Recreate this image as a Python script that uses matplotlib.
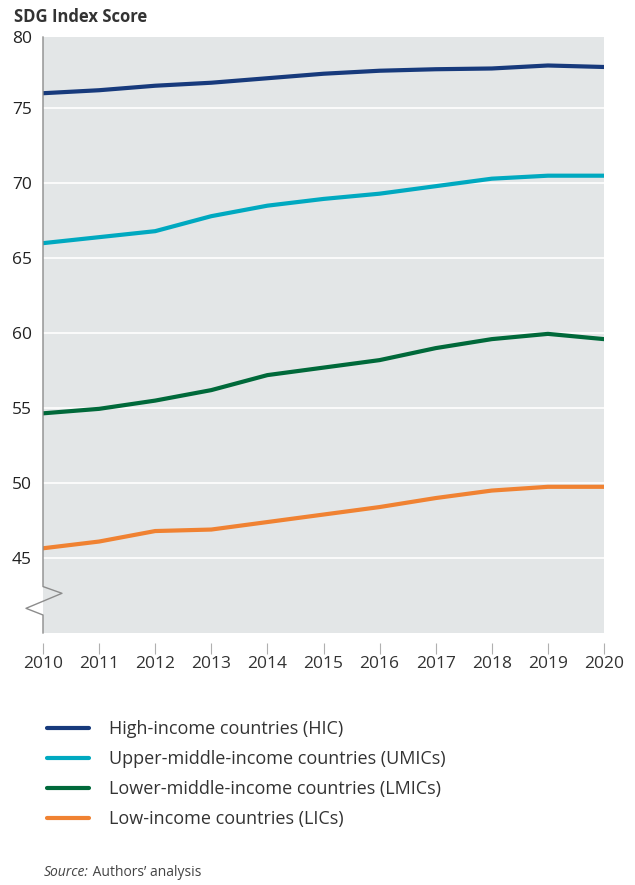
import matplotlib
matplotlib.use("Agg")
from matplotlib import pyplot as plt
from matplotlib.lines import Line2D

plt.rcParams['font.family'] = ['Open Sans', 'DejaVu Sans']

years = [2010, 2011, 2012, 2013, 2014, 2015, 2016, 2017, 2018, 2019, 2020]
hic = [76.0, 76.2, 76.5, 76.7, 77.0, 77.3, 77.5, 77.6, 77.65, 77.85, 77.75]
umic = [66.0, 66.4, 66.8, 67.8, 68.5, 68.95, 69.3, 69.8, 70.3, 70.5, 70.5]
lmic = [54.65, 54.95, 55.5, 56.2, 57.2, 57.7, 58.2, 59.0, 59.6, 59.95, 59.6]
lic = [45.65, 46.1, 46.8, 46.9, 47.4, 47.9, 48.4, 49.0, 49.5, 49.75, 49.75]

labels = ["High-income countries (HIC)",
          "Upper-middle-income countries (UMICs)",
          "Lower-middle-income countries (LMICs)",
          "Low-income countries (LICs)"]
colors = ["#173a7c", "#00a9c0", "#00693a", "#f08232"]

ytick_values = [45, 50, 55, 60, 65, 70, 75]
ytick_labels = ["45", "50", "55", "60", "65", "70", "75"]

fig = plt.figure(figsize=(6.35, 8.85), dpi=100)
ax = fig.add_axes([43 / 635, 1 - 633 / 885, 561 / 635, 596 / 885])
ax.set_facecolor("#e3e6e7")

for series, color in zip([hic, umic, lmic, lic], colors):
    ax.plot(years, series, color=color, lw=3, solid_capstyle="round", zorder=3)

ax.set_xlim(2010, 2020)
ax.set_ylim(40, 79.75)

# top label is "80" at the edge of the panel
ax.set_yticks(ytick_values + [79.75])
ax.set_yticklabels(ytick_labels + ["80"])
ax.set_xticks(years)
ax.set_xticklabels([str(y) for y in years])

for v in ytick_values:
    ax.axhline(v, color="white", lw=1.2, zorder=1)

for s in ["top", "right"]:
    ax.spines[s].set_visible(False)
ax.spines["bottom"].set_position(("outward", 7))
ax.spines["bottom"].set_color("none")
ax.spines["left"].set_visible(False)

ax.tick_params(axis="y", length=0, pad=8, labelsize=12.5, labelcolor="#222222")
ax.tick_params(axis="x", length=8, width=0.8, color="#b0b0b0", pad=1.5,
               labelsize=12.5, labelcolor="#333333")

# left axis with zigzag break near the bottom
ax.plot([0, 0, 0.0338, -0.0303, 0, 0],
        [1, 0.0779, 0.0666, 0.0414, 0.0302, 0],
        transform=ax.transAxes, color="#8c8c8c", lw=1.0, clip_on=False, zorder=4)

fig.text(14 / 635, 1 - 17 / 885, "SDG Index Score", fontsize=12, fontweight="bold",
         color="#333333", va="center", ha="left")

handles = [Line2D([], [], color=c, lw=3, solid_capstyle="round") for c in colors]
fig.legend(handles, labels, loc="upper left", bbox_to_anchor=(31 / 635, 1 - 704 / 885),
           frameon=False, fontsize=13, handlelength=2.3, handletextpad=1.1,
           labelspacing=0.66, labelcolor="#333333")

src = fig.text(44 / 635, 1 - 873 / 885, "Source:", fontsize=10, style="italic",
               color="#444444", va="center", ha="left")
fig.canvas.draw()
bb = src.get_window_extent()
fig.text(bb.x1 / fig.bbox.width, 1 - 873 / 885, " Authors\u2019 analysis", fontsize=10,
         color="#444444", va="center", ha="left")

fig.savefig("out.png", dpi=100)
